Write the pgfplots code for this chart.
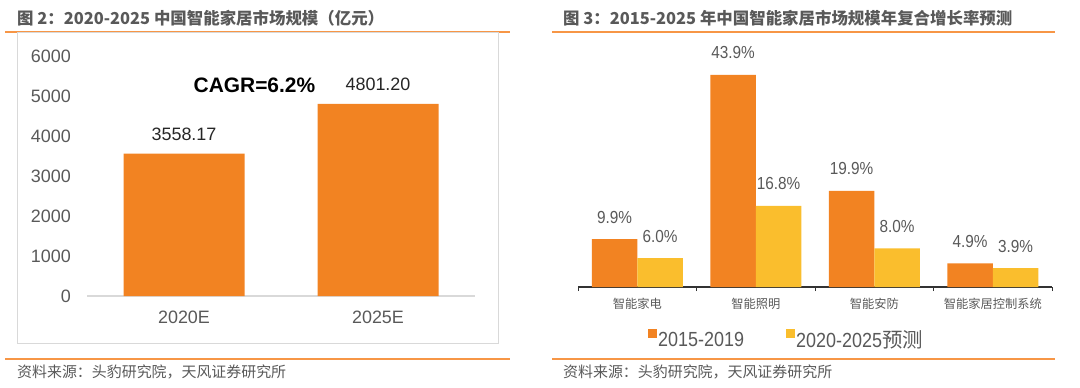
\documentclass[border=0pt]{standalone}
\usepackage{pgfplots}
\pgfplotsset{compat=1.18}
\usepackage{fontspec}
\setmainfont{Liberation Sans}
\newfontfamily\cjk{Noto Sans CJK SC}
\newfontfamily\narrow[FakeStretch=0.88]{Liberation Sans}
\definecolor{bar1}{RGB}{242,131,34}
\definecolor{bar2}{RGB}{250,190,45}
\definecolor{sep}{RGB}{247,150,70}
\definecolor{txt}{RGB}{89,89,89}
\definecolor{dark}{RGB}{38,38,38}
\definecolor{boxgray}{RGB}{217,217,217}
\begin{document}
\begin{tikzpicture}
\begin{scope}[x=1bp,y=1bp]
\path[use as bounding box] (0,0) rectangle (1080,387);
% titles
\node[anchor=west, inner sep=0, text=txt, font=\cjk\bfseries\fontsize{16.5}{18}\selectfont] at (17,369) {图 2：2020-2025 中国智能家居市场规模（亿元）};
\node[anchor=west, inner sep=0, text=txt, font=\cjk\bfseries\fontsize{16.5}{18}\selectfont] at (563,369) {图 3：2015-2025 年中国智能家居市场规模年复合增长率预测};
% separator lines
\draw[sep, line width=1.2bp] (5,355) -- (510,355);
\draw[sep, line width=1.2bp] (552,355) -- (1055,355);
\draw[sep, line width=1.2bp] (5,28) -- (510,28);
\draw[sep, line width=1.2bp] (552,28) -- (1055,28);
% left box
\draw[boxgray, line width=1bp] (17,354) rectangle (498,44);
% sources
\node[anchor=west, inner sep=0, text=txt, font=\cjk\fontsize{15}{17}\selectfont] at (17,15) {资料来源：头豹研究院，天风证券研究所};
\node[anchor=west, inner sep=0, text=txt, font=\cjk\fontsize{15}{17}\selectfont] at (563,15) {资料来源：头豹研究院，天风证券研究所};
\end{scope}

% left chart
\begin{axis}[
  at={(87bp,91bp)}, anchor=south west,
  scale only axis, width=388bp, height=240bp,
  xmin=-0.5, xmax=1.5, ymin=0, ymax=6000,
  axis line style={draw=none},
  major tick length=0,
  xtick={0,1}, xticklabels={2020E,2025E},
  ytick={0,1000,2000,3000,4000,5000,6000},
  yticklabels={0,1000,2000,3000,4000,5000,6000},
  tick label style={text=txt, font=\fontsize{18}{20}\selectfont, inner sep=0pt},
  yticklabel style={anchor=east, xshift=-16bp},
  xticklabel style={anchor=north, yshift=-14.5bp},
  clip=false,
  point meta=explicit symbolic,
]
\draw[boxgray, line width=1.2bp] (axis cs:-0.5,0) -- (axis cs:1.5,0);
\addplot[ybar, fill=bar1, draw=none, bar width=121bp,
  nodes near coords,
  nodes near coords style={anchor=base, inner sep=0pt, yshift=13.5bp, text=dark, font=\fontsize{18}{20}\selectfont}]
  coordinates {(0,3558.17) [3558.17] (1,4801.20) [4801.20]};
\node[anchor=base, inner sep=0pt, text=black, font=\bfseries\fontsize{21}{23}\selectfont] at (axis cs:0.363,5092) {CAGR=6.2\%};
\end{axis}

% right chart
\begin{axis}[
  at={(578bp,100bp)}, anchor=south west,
  scale only axis, width=474bp, height=241.5bp,
  xmin=-0.5, xmax=3.5, ymin=0, ymax=50,
  axis line style={draw=none},
  ybar=0pt, bar width=45.5bp,
  major tick length=0,
  ytick=\empty,
  xtick={0,1,2,3},
  xticklabels={智能家电,智能照明,智能安防,智能家居控制系统},
  xtick pos=bottom,
  xticklabel style={text=txt, font=\cjk\fontsize{12.3}{14}\selectfont, inner sep=0pt, anchor=north, yshift=-11bp},
  extra x ticks={-0.5,0.5,1.5,2.5,3.5},
  extra x tick labels={},
  extra x tick style={major tick length=4bp, tick align=outside, tick style={black!80, line width=1bp}},
  clip=false,
  point meta=explicit symbolic,
  nodes near coords,
  nodes near coords style={anchor=base, inner sep=0pt, yshift=16bp, text=txt, font=\narrow\fontsize{17.5}{19}\selectfont},
  legend style={at={(0.1403,-0.2174)}, anchor=west, draw=none, fill=none,
    legend columns=-1, font=\narrow\fontsize{20.5}{22}\selectfont, text=txt,
    /tikz/every even column/.append style={column sep=40bp},
    nodes={inner sep=1.5bp}},
  legend image code/.code={\fill[#1] (0bp,2bp) rectangle (9bp,11bp);},
]
\draw[black!80, line width=1.2bp] (axis cs:-0.5,0) -- (axis cs:3.5,0);
\addplot[fill=bar1, draw=none] coordinates {(0,9.9) [9.9\%] (1,43.9) [43.9\%] (2,19.9) [19.9\%] (3,4.9) [4.9\%]};
\addplot[fill=bar2, draw=none] coordinates {(0,6.0) [6.0\%] (1,16.8) [16.8\%] (2,8.0) [8.0\%] (3,3.9) [3.9\%]};
\legend{2015-2019,{2020-2025{\cjk 预测}}}
\end{axis}
\end{tikzpicture}
\end{document}
